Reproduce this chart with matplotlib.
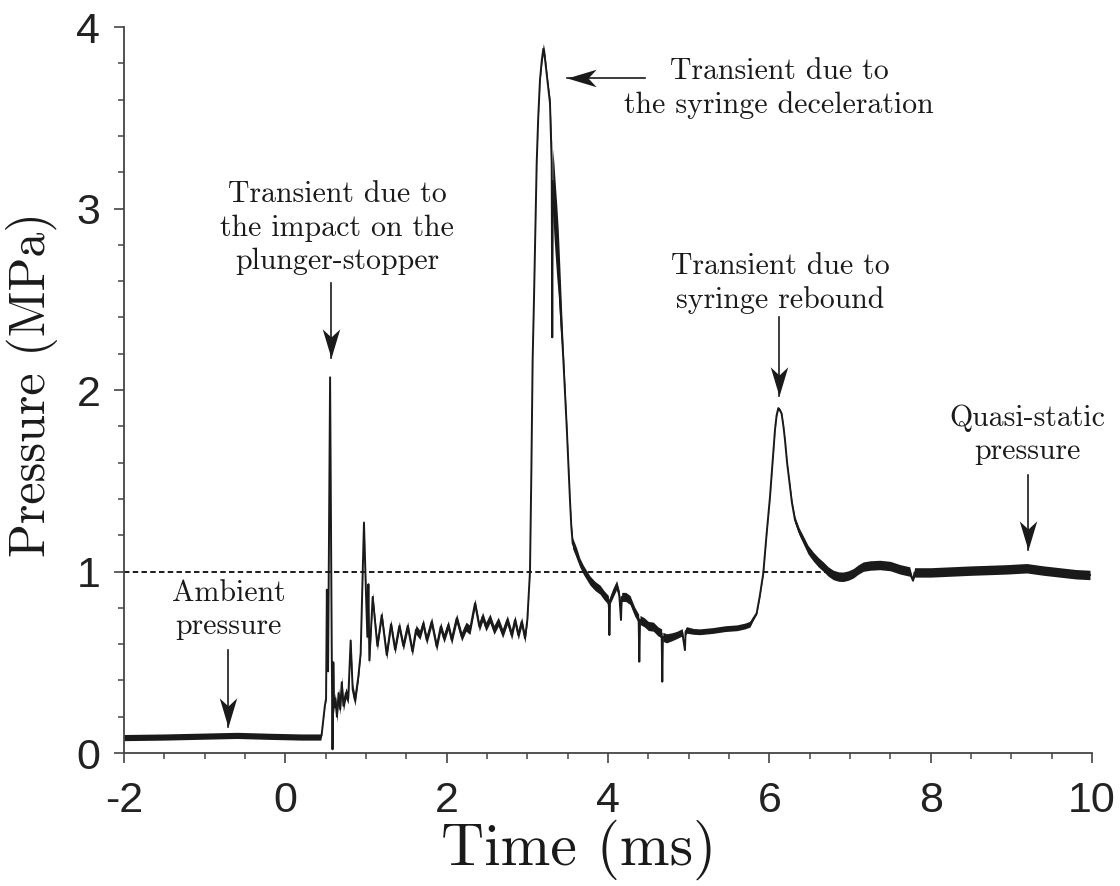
import numpy as np
import matplotlib
matplotlib.use("Agg")
import matplotlib.pyplot as plt
from matplotlib.path import Path

# pressure trace: time (ms), pressure (MPa),
# and the half-width of the high-frequency noise band around it (MPa)
time_ms = [
    -2.0, -1.5, -1.0, -0.6, -0.2, 0.2, 0.44,
    0.45, 0.49, 0.505, 0.515, 0.53, 0.555, 0.575, 0.585, 0.595, 0.605, 0.62,
    0.64, 0.66, 0.68, 0.70, 0.72, 0.75, 0.78, 0.81, 0.835, 0.864, 0.905, 0.934,
    0.975, 1.0, 1.017, 1.030, 1.042, 1.083, 1.141, 1.195, 1.257, 1.310, 1.360,
    1.413, 1.463, 1.517, 1.575, 1.620, 1.669, 1.710, 1.752, 1.814, 1.876,
    1.926, 1.967, 2.020, 2.062, 2.124, 2.186, 2.240, 2.289, 2.351, 2.405,
    2.446, 2.487, 2.537, 2.587, 2.640, 2.694, 2.752, 2.806, 2.847, 2.888,
    2.930, 2.971, 3.000,
    3.015, 3.033, 3.050, 3.066, 3.083, 3.100, 3.116, 3.135, 3.157, 3.180,
    3.198, 3.215, 3.240, 3.260, 3.281, 3.295, 3.302, 3.309, 3.315, 3.330,
    3.343, 3.365, 3.384, 3.405, 3.425, 3.446, 3.490, 3.529, 3.545, 3.562,
    3.585, 3.611, 3.650, 3.694, 3.735, 3.777, 3.840, 3.901, 3.950, 4.004,
    4.012, 4.017, 4.025, 4.060, 4.107, 4.140, 4.161, 4.170, 4.220, 4.273,
    4.330, 4.380, 4.388, 4.397, 4.450, 4.500, 4.562, 4.620, 4.665, 4.673,
    4.680, 4.727, 4.790, 4.851, 4.920, 4.954, 4.962, 4.975, 5.060, 5.140,
    5.300, 5.450, 5.600, 5.700, 5.760,
    5.800, 5.843, 5.880, 5.925, 5.965, 6.008, 6.040, 6.070, 6.090, 6.111,
    6.130, 6.152, 6.175, 6.194, 6.220, 6.247, 6.280,
    6.318, 6.370, 6.421, 6.480, 6.545, 6.610, 6.669,
    6.730, 6.793, 6.860, 6.917, 6.980, 7.041, 7.100, 7.165, 7.250, 7.370,
    7.500, 7.620, 7.740, 7.780, 7.800, 8.000, 8.250, 8.500, 8.700, 8.950,
    9.190, 9.400, 9.600, 9.800, 9.975,
]
pressure_mpa = [
    0.085, 0.088, 0.093, 0.097, 0.092, 0.088, 0.088,
    0.10, 0.26, 0.30, 0.90, 0.45, 2.07, 0.60, 0.02, 0.50, 0.25, 0.30,
    0.20, 0.33, 0.24, 0.39, 0.26, 0.33, 0.30, 0.62, 0.35, 0.29, 0.42, 0.55,
    1.27, 0.88, 0.64, 0.93, 0.51, 0.86, 0.59, 0.76, 0.54, 0.71, 0.57,
    0.70, 0.59, 0.70, 0.56, 0.68, 0.650, 0.714, 0.623, 0.724, 0.586,
    0.696, 0.632, 0.705, 0.623, 0.742, 0.641, 0.696, 0.678, 0.825, 0.696,
    0.751, 0.696, 0.742, 0.678, 0.724, 0.659, 0.733, 0.650, 0.733, 0.650,
    0.724, 0.632, 0.733,
    0.85, 1.00, 1.55, 2.17, 2.51, 2.90, 3.25, 3.50, 3.71, 3.82,
    3.88, 3.84, 3.74, 3.66, 3.58, 3.35, 3.25, 2.29, 3.15, 3.05,
    2.96, 2.82, 2.70, 2.51, 2.34, 2.17, 1.78, 1.39, 1.25, 1.155,
    1.13, 1.10, 1.05, 1.01, 0.98, 0.95, 0.92, 0.90, 0.87, 0.843,
    0.80, 0.65, 0.84, 0.88, 0.926, 0.87, 0.733, 0.86, 0.86, 0.843,
    0.78, 0.74, 0.503, 0.733, 0.72, 0.70, 0.696, 0.67, 0.659, 0.393,
    0.64, 0.632, 0.64, 0.650, 0.665, 0.567, 0.67, 0.678, 0.67, 0.668,
    0.675, 0.685, 0.69, 0.70, 0.71,
    0.74, 0.77, 0.86, 0.99, 1.20, 1.41, 1.60, 1.78, 1.86, 1.90,
    1.89, 1.87, 1.80, 1.725, 1.60, 1.50, 1.38,
    1.284, 1.22, 1.174, 1.12, 1.082, 1.05, 1.027,
    1.00, 0.981, 0.972, 0.971, 0.978, 0.99, 1.01, 1.027, 1.033, 1.036,
    1.03, 1.012, 1.00, 0.95, 0.995, 0.995, 1.00, 1.005, 1.008, 1.012,
    1.018, 1.005, 0.995, 0.985, 0.981,
]
noise_mpa = [
    0.017, 0.017, 0.017, 0.017, 0.017, 0.017, 0.017,
    0.005, 0.005, 0.01, 0.005, 0.01, 0.005, 0.01, 0.005, 0.01, 0.03, 0.03,
    0.03, 0.03, 0.03, 0.03, 0.03, 0.03, 0.03, 0.01, 0.03, 0.03, 0.02, 0.01,
    0.005, 0.015, 0.025, 0.02, 0.025, 0.025, 0.025, 0.025, 0.025, 0.025, 0.025,
    0.025, 0.025, 0.025, 0.025, 0.025, 0.025, 0.025, 0.025, 0.025, 0.025,
    0.025, 0.025, 0.025, 0.025, 0.025, 0.025, 0.025, 0.025, 0.025, 0.025,
    0.025, 0.025, 0.025, 0.025, 0.025, 0.025, 0.025, 0.025, 0.025, 0.025,
    0.025, 0.025, 0.015,
    0.005, 0.005, 0.005, 0.005, 0.005, 0.005, 0.01, 0.01, 0.01, 0.02,
    0.03, 0.03, 0.02, 0.02, 0.03, 0.08, 0.12, 0.005, 0.18, 0.2,
    0.2, 0.2, 0.18, 0.15, 0.1, 0.05, 0.02, 0.01, 0.02, 0.03,
    0.03, 0.03, 0.025, 0.025, 0.025, 0.025, 0.025, 0.025, 0.025, 0.025,
    0.02, 0.005, 0.02, 0.025, 0.025, 0.025, 0.005, 0.025, 0.025, 0.025,
    0.025, 0.025, 0.005, 0.025, 0.025, 0.025, 0.025, 0.025, 0.025, 0.005,
    0.025, 0.025, 0.022, 0.02, 0.02, 0.005, 0.02, 0.018, 0.016, 0.016,
    0.016, 0.016, 0.016, 0.016, 0.016,
    0.01, 0.006, 0.005, 0.005, 0.005, 0.005, 0.005, 0.005, 0.005, 0.008,
    0.008, 0.006, 0.005, 0.005, 0.005, 0.008, 0.012,
    0.018, 0.02, 0.022, 0.024, 0.025, 0.026, 0.026,
    0.026, 0.026, 0.026, 0.026, 0.026, 0.026, 0.026, 0.026, 0.026, 0.026,
    0.026, 0.026, 0.026, 0.005, 0.026, 0.026, 0.026, 0.026, 0.026, 0.026,
    0.026, 0.026, 0.026, 0.026, 0.026,
]
quasi_static = 1.0   # reference level, MPa
x_ticks = [-2, 0, 2, 4, 6, 8, 10]
y_ticks = [0, 1, 2, 3, 4]

ink = "#1a1a1a"
serif = "cmr10"
plt.rcParams["font.family"] = ["Liberation Sans", "DejaVu Sans"]
plt.rcParams["axes.unicode_minus"] = False

t = np.array(time_ms)
p = np.array(pressure_mpa)
w = np.array(noise_mpa)

fig = plt.figure(figsize=(11.2, 8.86), dpi=100)
ax = fig.add_axes([0.1107, 0.1501, 0.8643, 0.8194])

ax.hlines(quasi_static, -2, 6.7, colors=ink, linestyles=(0, (2.8, 1.7)), lw=1.4)
ax.fill_between(t, p - w, p + w, color=ink, lw=0)
ax.plot(t, p, color=ink, lw=1.4)

ax.set_xlim(-2, 10)
ax.set_ylim(0, 4)
ax.set_xticks(x_ticks)
ax.set_yticks(y_ticks)
ax.set_xticks(np.arange(-2, 10.01, 0.5), minor=True)
ax.set_yticks(np.arange(0, 4.01, 0.2), minor=True)
for s in ["top", "right"]:
    ax.spines[s].set_visible(False)
for s in ["left", "bottom"]:
    ax.spines[s].set_linewidth(1.3)
    ax.spines[s].set_color("#444444")
ax.tick_params(which="major", direction="out", length=7, width=1.2,
               color="#444444", labelsize=31, labelcolor="#222222")
ax.tick_params(which="minor", direction="out", length=4.5, width=1.1,
               color="#444444")
ax.tick_params(axis="x", which="major", pad=13)
ax.tick_params(axis="y", which="major", pad=10)

ax.set_xlabel("Time (ms)", family=serif, fontsize=43, color=ink)
ax.xaxis.set_label_coords(0.47, -0.092)
ax.set_ylabel("Pressure (MPa)", family=serif, fontsize=36, color=ink)
ax.yaxis.set_label_coords(-0.068, 0.507)

# barbed arrow heads, tip at the marker origin
down_head = Path([(0, 0), (-0.3, 1), (0, 0.72), (0.3, 1), (0, 0)],
                 [Path.MOVETO, Path.LINETO, Path.LINETO, Path.LINETO, Path.CLOSEPOLY])
left_head = Path([(0, 0), (1, 0.3), (0.72, 0), (1, -0.3), (0, 0)],
                 [Path.MOVETO, Path.LINETO, Path.LINETO, Path.LINETO, Path.CLOSEPOLY])


def arrow(tail, tip, head):
    ax.plot([tail[0], tip[0]], [tail[1], tip[1]], color=ink, lw=1.2)
    ax.plot(tip[0], tip[1], marker=head, ms=42, color=ink, mew=0)


notes = [
    ("Transient due to\nthe impact on the\nplunger-stopper", (0.646, 2.893),
     (0.566, 2.59), (0.566, 2.176), down_head),
    ("Ambient\npressure", (-0.705, 0.788),
     (-0.705, 0.567), (-0.705, 0.145), down_head),
    ("Transient due to\nthe syringe deceleration", (6.12, 3.661),
     (4.458, 3.719), (3.491, 3.719), left_head),
    ("Transient due to\nsyringe rebound", (6.136, 2.587),
     (6.124, 2.40), (6.124, 1.967), down_head),
    ("Quasi-static\npressure", (9.20, 1.752),
     (9.202, 1.532), (9.202, 1.118), down_head),
]
for text, pos, tail, tip, head in notes:
    ax.text(pos[0], pos[1], text, family=serif, fontsize=21.5, color=ink,
            ha="center", va="center", multialignment="center", linespacing=1.28)
    arrow(tail, tip, head)

fig.savefig("out.png", dpi=100)
